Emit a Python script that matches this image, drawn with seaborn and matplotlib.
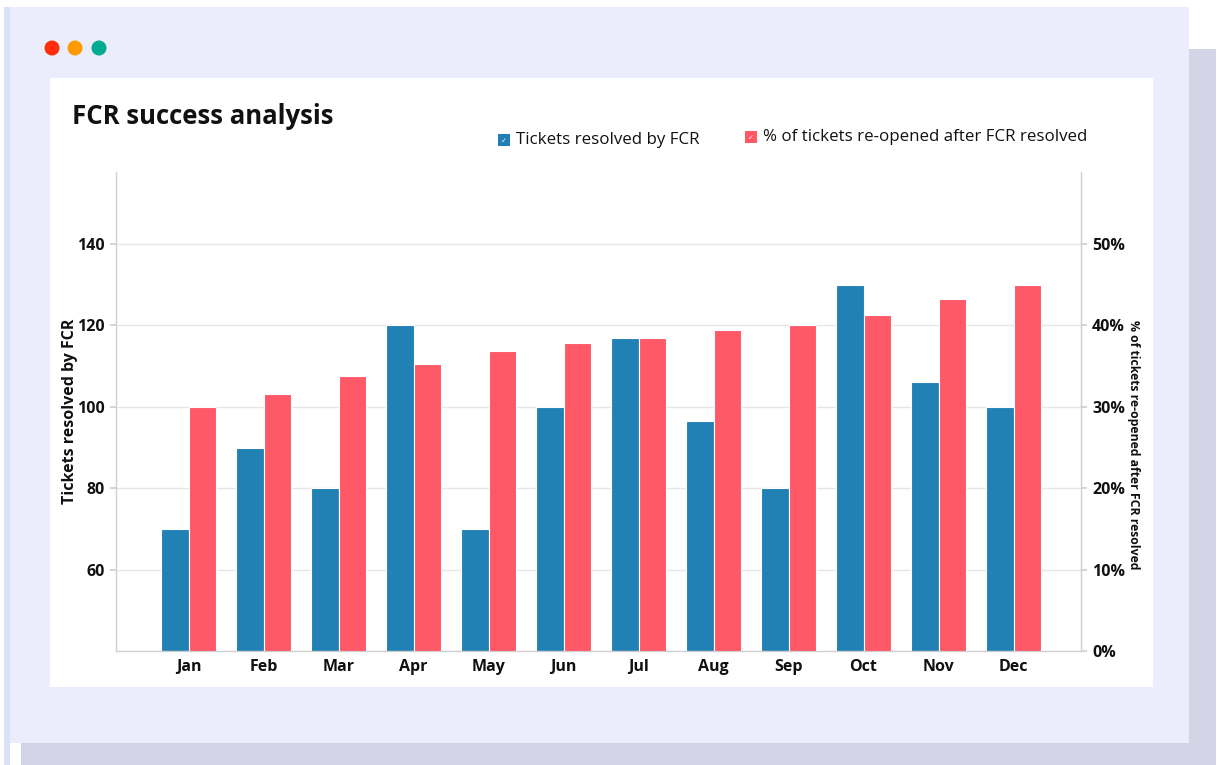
import matplotlib
matplotlib.use("Agg")
import matplotlib.pyplot as plt
import numpy as np
import pandas as pd
import seaborn as sns
from matplotlib.patches import Rectangle, Circle
from matplotlib.ticker import FuncFormatter, FixedLocator

# ---- data -------------------------------------------------------------
months = ["Jan", "Feb", "Mar", "Apr", "May", "Jun",
          "Jul", "Aug", "Sep", "Oct", "Nov", "Dec"]
tickets_resolved = [70, 90, 80, 120, 70, 100, 117, 96.5, 80, 130, 106, 100]
reopened_pct = [30, 31.6, 33.8, 35.2, 36.8, 37.9, 38.4, 39.4, 40, 41.3, 43.2, 45]
left_ticks = [60, 80, 100, 120, 140]
right_ticks = [0, 10, 20, 30, 40, 50]

series_names = ["Tickets resolved by FCR",
                "% of tickets re-opened after FCR resolved"]
series_colors = ["#2181B4", "#FF5866"]

df_tickets = pd.DataFrame({"month": months, "series": series_names[0],
                           "value": tickets_resolved})
df_reopened = pd.DataFrame({"month": months, "series": series_names[1],
                            "value": reopened_pct})

# ---- style ------------------------------------------------------------
sns.set_theme(style="white")
plt.rcParams["font.family"] = ["Open Sans", "DejaVu Sans"]
TXT = "#111111"
AXIS_GREY = "#CFCFCF"

W, H = 1224, 765
fig = plt.figure(figsize=(W / 100, H / 100), dpi=100)
fig.patch.set_facecolor("white")

# ---- card / window frame (pixel coordinates) --------------------------
bg = fig.add_axes([0, 0, 1, 1], zorder=0)
bg.set_xlim(0, W)
bg.set_ylim(H, 0)
bg.axis("off")
bg.add_patch(Rectangle((21, 49), 1195, 716, color="#D3D5E6", lw=0))
bg.add_patch(Rectangle((4, 7), 6, 758, color="#D8E1F5", lw=0))
bg.add_patch(Rectangle((10, 7), 1179, 736, color="#ECEDFC", lw=0))
bg.add_patch(Rectangle((50, 78), 1103, 609, color="white", lw=0))
for cx, c in [(52, "#FF2E0A"), (75, "#FF9A00"), (99, "#00AA8F")]:
    bg.add_patch(Circle((cx, 48), 7.5, color=c, lw=0))

# title
bg.text(72, 116, "FCR success analysis", fontsize=18.5, fontweight="bold",
        color=TXT, va="center", ha="left")

# legend
legend_items = [(498, 140, series_colors[0], series_names[0]),
                (745, 137, series_colors[1], series_names[1])]
for lx, ly, c, label in legend_items:
    bg.add_patch(Rectangle((lx, ly - 6), 12, 12, color=c, lw=0))
    bg.text(lx + 6, ly + 0.5, "\u2713", color="white", fontsize=5,
            ha="center", va="center", family="DejaVu Sans")
    bg.text(lx + 18, ly, label, fontsize=12.2, color=TXT,
            ha="left", va="center")

# ---- bar chart --------------------------------------------------------
ax = fig.add_axes([116 / W, 1 - 651 / H, (1081 - 116) / W, (651 - 172) / H],
                  zorder=1)
ax.patch.set_alpha(0)
bar_kw = dict(x="month", y="value", hue="series", hue_order=series_names,
              order=months, palette=series_colors, width=0.74, dodge=True,
              saturation=1, edgecolor="white", linewidth=0.8, legend=False)
sns.barplot(data=df_tickets, ax=ax, **bar_kw)
ax2 = ax.twinx()
sns.barplot(data=df_reopened, ax=ax2, **bar_kw)

for a in (ax, ax2):
    a.set_xlim(-0.97, 11.9)
    a.set_xlabel("")
ax.set_ylim(40, 157.7)
ax2.set_ylim(0, 58.85)

ax.yaxis.set_major_locator(FixedLocator(left_ticks))
ax2.yaxis.set_major_locator(FixedLocator(right_ticks))
ax2.yaxis.set_major_formatter(FuncFormatter(lambda v, p: f"{v:.0f}%"))

ax.set_axisbelow(True)
ax.yaxis.grid(True, color="#E6E6E6", lw=1)
ax.xaxis.grid(False)
ax2.grid(False)

for a in (ax, ax2):
    for s in a.spines.values():
        s.set_color(AXIS_GREY)
        s.set_linewidth(1)
    a.spines["top"].set_visible(False)
ax.spines["right"].set_visible(False)
ax2.spines["left"].set_visible(False)
ax2.spines["bottom"].set_visible(False)

ax.tick_params(axis="y", left=True, length=4, color=AXIS_GREY, pad=4,
               labelsize=11.5, labelcolor=TXT)
ax2.tick_params(axis="y", right=True, length=4, color=AXIS_GREY, pad=4,
                labelsize=11.5, labelcolor=TXT)
ax.tick_params(axis="x", bottom=False, length=0, pad=6, labelsize=11.5,
               labelcolor=TXT)
for lab in ax.get_yticklabels() + ax2.get_yticklabels() + ax.get_xticklabels():
    lab.set_fontweight("bold")

ax.set_ylabel("Tickets resolved by FCR", fontsize=11.5, fontweight="bold",
              color=TXT)
ax.yaxis.set_label_coords(-0.039, 0.5)
ax2.set_ylabel(series_names[1], fontsize=8.8, fontweight="bold", color=TXT,
               rotation=-90, va="center")
ax2.yaxis.set_label_coords(1.054, 0.43)

fig.savefig("out.png", dpi=100, facecolor="white")
